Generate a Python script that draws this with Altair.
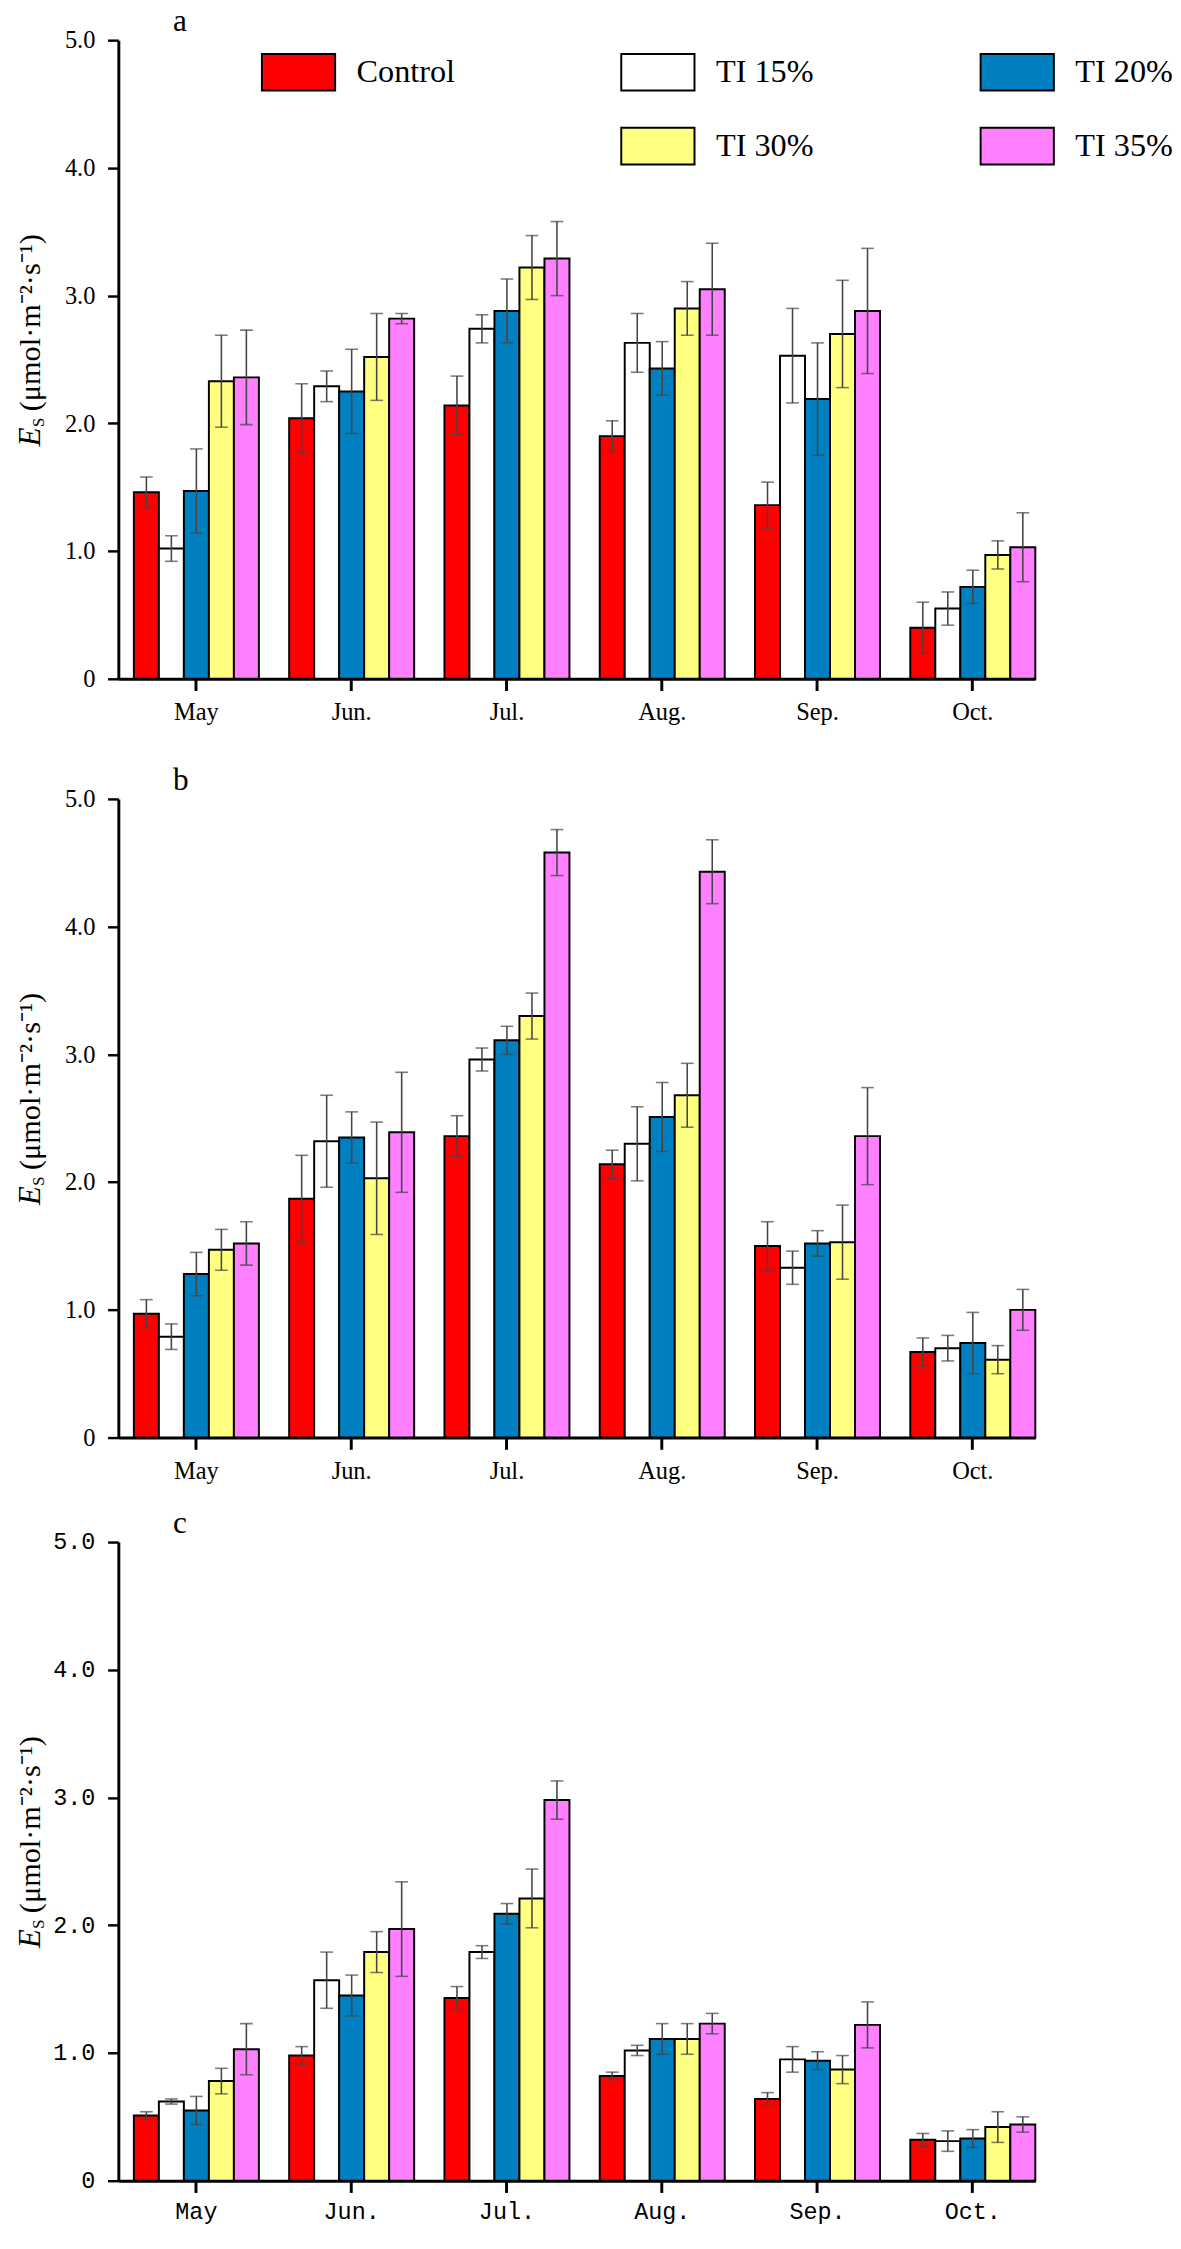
import altair as alt
import pandas as pd

months = ["May", "Jun.", "Jul.", "Aug.", "Sep.", "Oct."]
treatments = ["Control", "TI 15%", "TI 20%", "TI 30%", "TI 35%"]
bar_colors = ["#FF0000", "#FFFFFF", "#0080C0", "#FFFF80", "#FF80FF"]
# legend order (row-major, 3 columns) with an empty slot before TI 30%
legend_domain = ["Control", "TI 15%", "TI 20%", "blank", "TI 30%", "TI 35%"]
legend_range = ["#FF0000", "#FFFFFF", "#0080C0", "#FFFFFF", "#FFFF80", "#FF80FF"]

# ---- panel a ----
a_control = [1.46, 2.04, 2.14, 1.90, 1.36, 0.40]
a_ti15 = [1.02, 2.29, 2.74, 2.63, 2.53, 0.55]
a_ti20 = [1.47, 2.25, 2.88, 2.43, 2.19, 0.72]
a_ti30 = [2.33, 2.52, 3.22, 2.90, 2.70, 0.97]
a_ti35 = [2.36, 2.82, 3.29, 3.05, 2.88, 1.03]
a_control_err = [0.12, 0.27, 0.23, 0.12, 0.18, 0.20]
a_ti15_err = [0.10, 0.12, 0.11, 0.23, 0.37, 0.13]
a_ti20_err = [0.33, 0.33, 0.25, 0.21, 0.44, 0.13]
a_ti30_err = [0.36, 0.34, 0.25, 0.21, 0.42, 0.11]
a_ti35_err = [0.37, 0.04, 0.29, 0.36, 0.49, 0.27]

# ---- panel b ----
b_control = [0.97, 1.87, 2.36, 2.14, 1.50, 0.67]
b_ti15 = [0.79, 2.32, 2.96, 2.30, 1.33, 0.70]
b_ti20 = [1.28, 2.35, 3.11, 2.51, 1.52, 0.74]
b_ti30 = [1.47, 2.03, 3.30, 2.68, 1.53, 0.61]
b_ti35 = [1.52, 2.39, 4.58, 4.43, 2.36, 1.00]
b_control_err = [0.11, 0.34, 0.16, 0.11, 0.19, 0.11]
b_ti15_err = [0.10, 0.36, 0.09, 0.29, 0.13, 0.10]
b_ti20_err = [0.17, 0.20, 0.11, 0.27, 0.10, 0.24]
b_ti30_err = [0.16, 0.44, 0.18, 0.25, 0.29, 0.11]
b_ti35_err = [0.17, 0.47, 0.18, 0.25, 0.38, 0.16]

# ---- panel c ----
c_control = [0.51, 0.98, 1.43, 0.82, 0.64, 0.32]
c_ti15 = [0.62, 1.57, 1.79, 1.02, 0.95, 0.31]
c_ti20 = [0.55, 1.45, 2.09, 1.11, 0.94, 0.33]
c_ti30 = [0.78, 1.79, 2.21, 1.11, 0.87, 0.42]
c_ti35 = [1.03, 1.97, 2.98, 1.23, 1.22, 0.44]
c_control_err = [0.03, 0.07, 0.09, 0.03, 0.05, 0.05]
c_ti15_err = [0.02, 0.22, 0.05, 0.04, 0.10, 0.08]
c_ti20_err = [0.11, 0.16, 0.08, 0.12, 0.07, 0.07]
c_ti30_err = [0.10, 0.16, 0.23, 0.12, 0.11, 0.12]
c_ti35_err = [0.20, 0.37, 0.15, 0.08, 0.18, 0.06]

y_ticks = [0, 1, 2, 3, 4, 5]
title_parts = ["E", "S", "(μmol·m⁻²·s⁻¹)"]


def make_df(means, errs):
    rows = []
    for t, m_list, e_list in zip(treatments, means, errs):
        for mo, m, e in zip(months, m_list, e_list):
            rows.append({"month": mo, "treatment": t, "mean": m,
                         "lo": m - e, "hi": m + e})
    return pd.DataFrame(rows)


df_a = make_df([a_control, a_ti15, a_ti20, a_ti30, a_ti35],
               [a_control_err, a_ti15_err, a_ti20_err, a_ti30_err, a_ti35_err])
df_b = make_df([b_control, b_ti15, b_ti20, b_ti30, b_ti35],
               [b_control_err, b_ti15_err, b_ti20_err, b_ti30_err, b_ti35_err])
df_c = make_df([c_control, c_ti15, c_ti20, c_ti30, c_ti35],
               [c_control_err, c_ti15_err, c_ti20_err, c_ti30_err, c_ti35_err])

W, H = 939, 654
ERR = "#454545"


def panel(df, letter, mono=False, legend=False):
    lab_font = "Liberation Mono" if mono else "Liberation Serif"
    lab_size = 24 if mono else 25
    xscale = alt.Scale(domain=months, paddingInner=0.195, paddingOuter=0.05, align=1)
    xaxis = alt.Axis(title=None, labelFont=lab_font, labelFontSize=lab_size,
                     labelColor="black", labelAngle=0, tickSize=12, tickWidth=3,
                     tickColor="black", domainColor="black", domainWidth=3,
                     labelPadding=8 if mono else 10, grid=False)
    yaxis = alt.Axis(title=None, values=y_ticks, grid=False,
                     labelExpr="datum.value == 0 ? '0' : format(datum.value, '.1f')",
                     labelFont=lab_font, labelFontSize=lab_size, labelColor="black",
                     tickSize=11, tickWidth=2.5, tickColor="black",
                     domainColor="black", domainWidth=3, labelPadding=13)
    x = alt.X("month:N", sort=months, scale=xscale, axis=xaxis)
    xo = alt.XOffset("treatment:N", sort=treatments,
                     scale=alt.Scale(domain=treatments, paddingInner=0, paddingOuter=0))
    yscale = alt.Scale(domain=[0, 5], nice=False, zero=True)

    if legend:
        leg = alt.Legend(orient="none", legendX=146, legendY=-6, columns=3,
                         title=None, direction="horizontal",
                         symbolType="M-1,-0.5H1V0.5H-1Z", symbolSize=5625,
                         symbolStrokeColor="black", symbolStrokeWidth=2,
                         labelFont="Liberation Serif", labelFontSize=33,
                         labelColor="black", labelOffset=21, labelLimit=0,
                         columnPadding=166, rowPadding=14, gridAlign="all",
                         labelExpr="datum.value == 'blank' ? '' : datum.label",
                         symbolOpacity=alt.ExprRef(expr="datum.value == 'blank' ? 0 : 1"))
    else:
        leg = None
    fill = alt.Fill("treatment:N",
                    scale=alt.Scale(domain=legend_domain, range=legend_range),
                    legend=leg)

    base = alt.Chart(df)
    bars = base.mark_bar(stroke="black", strokeWidth=2).encode(
        x=x, xOffset=xo, y=alt.Y("mean:Q", scale=yscale, axis=yaxis), fill=fill)
    rules = base.mark_rule(color=ERR, strokeWidth=1.6).encode(
        x=x, xOffset=xo, y=alt.Y("lo:Q", scale=yscale), y2="hi:Q")
    cap_lo = base.mark_tick(color=ERR, thickness=1.6, size=13).encode(
        x=x, xOffset=xo, y=alt.Y("lo:Q", scale=yscale))
    cap_hi = base.mark_tick(color=ERR, thickness=1.6, size=13).encode(
        x=x, xOffset=xo, y=alt.Y("hi:Q", scale=yscale))

    letter_mark = alt.Chart(pd.DataFrame({"t": [letter]})).mark_text(
        font="Liberation Serif", fontSize=32, align="left", baseline="alphabetic",
        color="black").encode(x=alt.value(56), y=alt.value(-9), text="t:N")

    t_e = alt.Chart(pd.DataFrame({"t": [title_parts[0]]})).mark_text(
        font="Liberation Serif", fontSize=32, fontStyle="italic", angle=270,
        align="left", baseline="alphabetic", color="black").encode(
        x=alt.value(-80), y=alt.value(416), text="t:N")
    t_s = alt.Chart(pd.DataFrame({"t": [title_parts[1]]})).mark_text(
        font="Liberation Serif", fontSize=17, angle=270,
        align="left", baseline="alphabetic", color="black").encode(
        x=alt.value(-76), y=alt.value(396), text="t:N")
    t_rest = alt.Chart(pd.DataFrame({"t": [title_parts[2]]})).mark_text(
        font="Liberation Serif", fontSize=31, angle=270,
        align="left", baseline="alphabetic", color="black").encode(
        x=alt.value(-80), y=alt.value(380), text="t:N")

    return alt.layer(bars, rules, cap_lo, cap_hi, letter_mark, t_e, t_s, t_rest).properties(
        width=W, height=H)


pa = panel(df_a, "a", legend=True)
pb = panel(df_b, "b")
pc = panel(df_c, "c", mono=True)

chart = alt.vconcat(pa, alt.vconcat(pb, pc, spacing=25), spacing=41).properties(
    padding={"left": 7, "top": -29, "right": 0, "bottom": 0}
).configure_view(stroke=None).resolve_scale(fill="independent")

chart.save("out.html", embed_options={"renderer": "svg", "actions": False})
